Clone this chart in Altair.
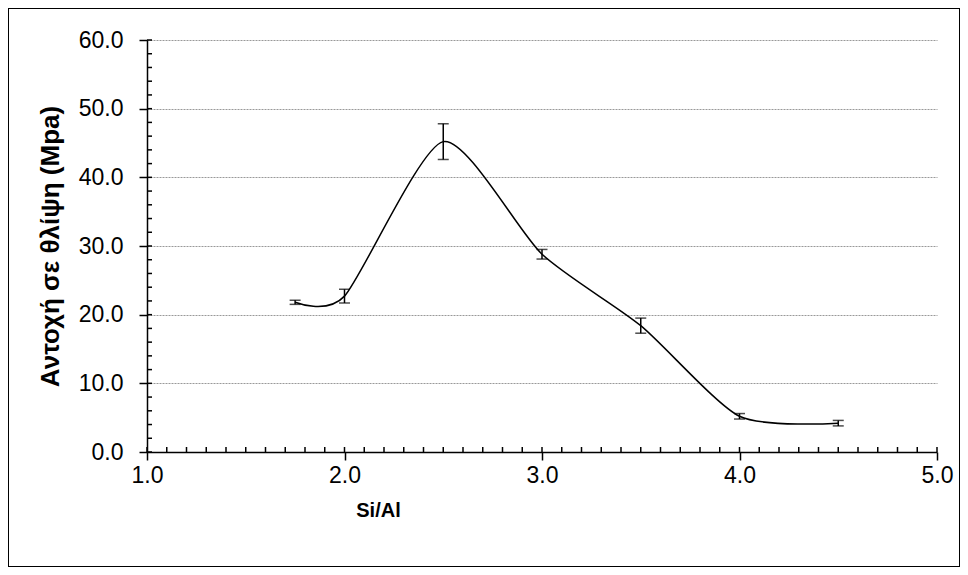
import altair as alt
import pandas as pd

# Data
si_al = [1.75, 2.0, 2.5, 3.0, 3.5, 4.0, 4.5]
strength = [21.8, 22.7, 45.2, 28.8, 18.4, 5.2, 4.2]
err = [0.3, 1.0, 2.6, 0.7, 1.1, 0.4, 0.4]

x_minor = [round(1.0 + 0.1 * i, 1) for i in range(41)]
y_minor = [2 * i for i in range(31)]

W, H = 790, 412
PAD = {"left": 139, "top": 32, "right": 23, "bottom": 115}

df = pd.DataFrame({"x": si_al, "y": strength, "lo": [v - e for v, e in zip(strength, err)],
                   "hi": [v + e for v, e in zip(strength, err)]})

FONT = "Liberation Sans"

xscale = alt.Scale(domain=[1, 5], nice=False, zero=False)
yscale = alt.Scale(domain=[0, 60], nice=False)

xaxis = alt.Axis(values=[1, 2, 3, 4, 5], format=".1f", grid=False, title="Si/Al",
                 labelFlush=False, titleFontSize=20,
                 titleX=231, titleY=58, titleBaseline="middle", titleAnchor="start",
                 titleAlign="center")
yaxis = alt.Axis(values=[0, 10, 20, 30, 40, 50, 60], format=".1f", grid=True,
                 labelFlush=False, titleFontSize=26,
                 title="Αντοχή σε θλίψη (Mpa)", titleX=-97, titleBaseline="middle")

line = alt.Chart(df).mark_line(interpolate="cardinal", tension=0.3, color="black", strokeWidth=1.5).encode(
    x=alt.X("x:Q", scale=xscale, axis=xaxis),
    y=alt.Y("y:Q", scale=yscale, axis=yaxis),
)

bars = alt.Chart(df).mark_rule(color="black", strokeWidth=1.5).encode(
    x="x:Q", y="lo:Q", y2="hi:Q")
cap_lo = alt.Chart(df).mark_tick(color="black", orient="horizontal", size=11, thickness=1.5).encode(
    x="x:Q", y="lo:Q")
cap_hi = alt.Chart(df).mark_tick(color="black", orient="horizontal", size=11, thickness=1.5).encode(
    x="x:Q", y="hi:Q")

xm = alt.Chart(pd.DataFrame({"t": x_minor})).mark_rule(color="black", strokeWidth=1.5).encode(
    x="t:Q", y=alt.value(H), y2=alt.value(H - 5))
ym = alt.Chart(pd.DataFrame({"t": y_minor})).mark_rule(color="black", strokeWidth=1.5).encode(
    y="t:Q", x=alt.value(0), x2=alt.value(5))

border = alt.Chart(pd.DataFrame({"a": [0]})).mark_rect(filled=False, stroke="black", strokeWidth=2).encode(
    x=alt.value(-PAD["left"]), x2=alt.value(W + PAD["right"]),
    y=alt.value(-PAD["top"]), y2=alt.value(H + PAD["bottom"]))

chart = alt.layer(line, bars, cap_lo, cap_hi, xm, ym, border).properties(
    width=W, height=H, padding=PAD, autosize=alt.AutoSizeParams(type="none"),
    background="white",
).configure_view(stroke=None).configure_axis(
    labelFont=FONT, titleFont=FONT, labelFontSize=23,
    labelColor="black", titleColor="black", titleFontWeight="bold",
    domainColor="black", domainWidth=1.5, tickColor="black", tickWidth=1.5, tickSize=8,
    gridColor="#999999", gridDash=[2, 1], gridWidth=1,
).configure_axisY(labelPadding=16).configure_axisX(labelPadding=4)

chart.save("out.html", embed_options={"renderer": "svg", "actions": False})
